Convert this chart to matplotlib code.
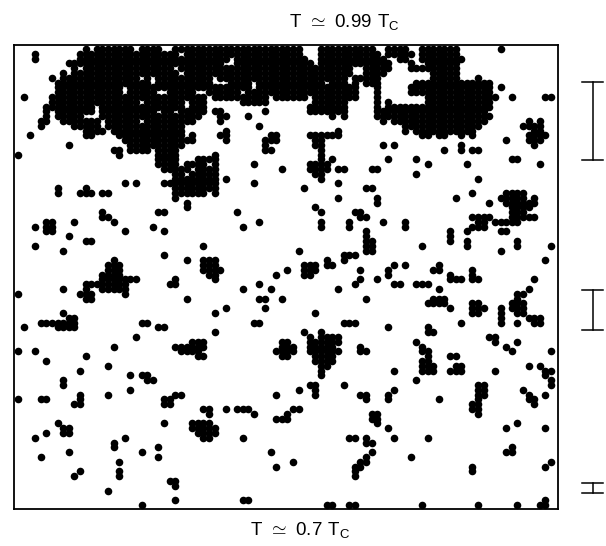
import matplotlib
matplotlib.use("Agg")
import matplotlib.pyplot as plt
from matplotlib.lines import Line2D

plt.rcParams['font.family'] = ['Liberation Sans', 'DejaVu Sans']
plt.rcParams['mathtext.fontset'] = 'custom'
plt.rcParams['mathtext.rm'] = 'Liberation Sans'

# occupied lattice sites: row index -> columns ("a-b" is a run of columns)
SITES_TOP = {
 0: "12 14-20 22-25 28-50 54-63 66-69 72-78 86",
 1: "3 11-28 30-50 54-64 66-70 72-78",
 2: "3 11-37 39-51 54-65 68 69 72-79",
 3: "9-36 39-52 54-66 70 73-78",
 4: "10 12-27 29-59 62-66 70-78",
 5: "8 10-28 30-59 62-65 74-78",
 6: "6 8-21 23 25-34 36-58 60-64 74-78 82",
 7: "7-23 25-34 38-41 43-54 56-58 60 62-64 71-84",
 8: "7-18 20-41 43-60 64 70-84 86",
 9: "7-18 20-24 27-31 34-39 41-60 64 70-84",
 10: "1 6-33 35-44 46-51 53-60 64 73-85 88 94 95",
 11: "6-21 23-29 31-33 40-44 53-58 64 66 73-84",
 12: "5-13 15-29 31-33 52-58 64 66-84",
 13: "5 7-13 15-24 26 27 29-33 35 36 44 52-58 64-83",
 14: "5 7-11 15-32 36 37 41 56 58 64-84",
 15: "4 5 8-14 16-21 23-31 36 65 67-83 91 93",
 16: "4 10-14 16-29 43 69-82 90-93",
 17: "12-15 17-29 37 57 69 71-81 92 93",
 18: "2 12 13 18-29 31 36 37 45 46 52-57 72 73 75 76 79 81 91-94",
 19: "19-31 37 44-46 53 54 87 91-93",
 20: "9 20-29 44 53 54 65 67 79 92",
 21: "17 18 20-23 25-28 44 45 54 76 79 81 82",
 22: "0 18 25-28 35 54",
 23: "25-28 32-35 54 56 66 71 88 89",
 24: "25-28 30-33 35 42 52-55 73 80 93",
 25: "26-30 32-35 47 52-55 57 58 63 64",
 26: "28 29 31-35 53 54 71",
 27: "28-35 37 54 82",
 28: "19 21 26-35 42 57",
 29: "7 12 28-35 51 62 63",
 30: "7 11-13 15 16 28-33 35 81 87-90",
 31: "28 57 64 78 86-90 92",
}
SITES_MIDDLE = {
 32: "30 64 84 87-92",
 33: "30 53 88-91",
 34: "15 25 26 39 54 60 61 88-90",
 35: "15 16 61 62 81-84 88-92",
 36: "5 6 10 17 43 54 59 65 69 82 83 85-89",
 37: "3 5 6 24 40 54 59 69 81-83",
 38: "5 6 19 26 62 77 80 86 87",
 39: "9 62 77",
 40: "12 13 62 63 77 80 89",
 41: "3 33 62 63 72 80 89 95",
 42: "8 50 62 63 86",
 43: "26 58-60",
 44: "17 30 33-35 55 58 94",
 45: "16-18 33-35 51-53 55 56 67 69 75",
 46: "16-18 33-36 48 51-53 61 66 74 75 81",
 47: "15-18 34 35 46 51 52 66 77 81",
 48: "15-21 28 35 61 64 77-79 81 82 92",
 49: "12-19 27 28 43 60 67 68 71-73",
 50: "8 12 15-19 40 45 57 75 91",
 51: "0 11-13 19 89 90",
 52: "12 13 30 43 44 47 62 74-76 89",
 53: "73-76 81 82 88-90",
 54: "37 44 77 81-83 86 88-90",
 55: "8 35 53 81 82 86 89 90",
 56: "9 10 86 91-93",
 57: "4-10 22 23 42 43 58-60 79 86 89 92 93",
 58: "1 7-10 25 26 66 73",
 59: "35 51 54 73 74",
 60: "21 52 54-57 84 85",
 61: "31-33 47 48 52-57 71 85 89",
 62: "17 28-33 47-49 52-56 61 72 87",
 63: "0 3 29-32 46-49 52-57 61 62 72 73 88 95",
}
SITES_BOTTOM = {
 64: "12 32 33 47 48 53-56 73 77 78",
 65: "5 53-56 72 73",
 66: "16 54 55 72-74 78 79 91 93",
 67: "11 54 67 72-74 77-79 85 94 95",
 68: "20 22 23 54 94",
 69: "8 23 24 71 95",
 70: "8 52 53 58 82 83 95",
 71: "20 50 53 67 82 83 90",
 72: "11 16 28 29 46 53 61 62 66 82 83 91 94",
 73: "0 4 5 11 26 27 62 66 75 82 91 92",
 74: "10 11 26 27 81 82 92",
 75: "33 34 37 39-41 49 50 81 82",
 76: "34 42 48 63 64 82",
 77: "46-48 63 64",
 78: "7 26 31-34 64 89",
 79: "8 9 31-35 66 87 94",
 80: "5 8 9 32-35",
 81: "3 19 33 34 40 59 60 62 67 73",
 82: "17 62 63",
 83: "17 25 88",
 84: "9 22 45 63 87 88",
 85: "4 25 62 70",
 86: "18 49 61 62 95",
 87: "46 60 61 81 94",
 88: "11 18 60 81",
 89: "10 18 60",
 90: "27 28",
 91: "28",
 92: "16",
 94: "28 40 41 94",
 95: "22 55 56 59 60 72 82 89 93 94",
}
TOP_LABEL = r"$\mathrm{T\ \simeq\ 0.99\ T_{C}}$"
BOTTOM_LABEL = r"$\mathrm{T\ \simeq\ 0.7\ T_{C}}$"
# right-hand length bars: (top pixel, bottom pixel)
BARS = [(81.5, 160), (289.5, 330), (483, 493)]

W, H = 606, 546
xs, ys = [], []
for table in (SITES_TOP, SITES_MIDDLE, SITES_BOTTOM):
    for row, spec in table.items():
        for tok in spec.split():
            if '-' in tok:
                a, b = tok.split('-')
                cols = range(int(a), int(b) + 1)
            else:
                cols = [int(tok)]
            for c in cols:
                xs.append(c)
                ys.append(row)

fig = plt.figure(figsize=(W / 100, H / 100), dpi=100)
L, R, T, B = 13.5, 558, 45, 509
ax = fig.add_axes([L / W, 1 - B / H, (R - L) / W, (B - T) / H])
ax.scatter(xs, ys, s=30, c='black', linewidths=0, clip_on=False, zorder=3)
ax.set_xlim((L - 18.3) / 5.607, (R - 18.3) / 5.607)
ax.set_ylim((B - 49) / 4.8, (T - 49) / 4.8)
ax.set_xticks([])
ax.set_yticks([])
for s in ax.spines.values():
    s.set_linewidth(1.3)

def px(x, y):
    return x / W, 1 - y / H

fig.text(*px(344, 22), TOP_LABEL, ha='center', va='center', fontsize=13.5)
fig.text(*px(300, 530), BOTTOM_LABEL, ha='center', va='center', fontsize=13.5)

for top, bot in BARS:
    for (x0, y0, x1, y1) in [(593, top, 593, bot), (582, top, 603, top), (582, bot, 603, bot)]:
        a, b = px(x0, y0)
        c, d = px(x1, y1)
        fig.add_artist(Line2D([a, c], [b, d], color='black', lw=1.1))

fig.savefig("out.png", dpi=100, facecolor='white')
